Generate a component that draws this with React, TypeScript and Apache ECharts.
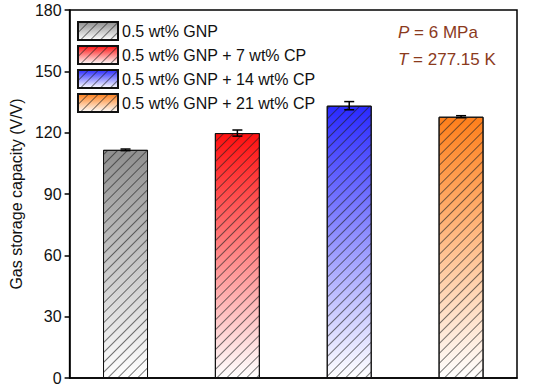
import React, { useEffect, useRef } from "react";
import * as echarts from "echarts";

const categories = ["GNP", "GNP+7CP", "GNP+14CP", "GNP+21CP"];
const seriesNames = [
  "0.5 wt% GNP",
  "0.5 wt% GNP + 7 wt% CP",
  "0.5 wt% GNP + 14 wt% CP",
  "0.5 wt% GNP + 21 wt% CP",
];
const values = [111.6, 119.8, 133.2, 127.8];
const errors = [0.4, 1.5, 2.0, 0.5];
const topColors = ["#8f8f8f", "#ff1010", "#2a2aff", "#ff7f1a"];
const yTicks = [0, 30, 60, 90, 120, 150, 180];

const FONT = "Liberation Sans, Arial, sans-serif";

export default function App() {
  const ref = useRef<HTMLDivElement>(null);
  useEffect(() => {
    if (!ref.current) return;
    document.body.style.margin = "0";
    const chart = echarts.init(ref.current, undefined, { renderer: "svg" });
    const decal = {
      symbol: "rect",
      symbolSize: 1,
      color: "rgba(30,30,30,0.6)",
      dashArrayX: [1, 0],
      dashArrayY: [1, 6],
      rotation: -Math.PI / 4,
    };
    const barSeries = seriesNames.map((name, i) => ({
      name,
      type: "bar",
      barWidth: 45,
      barGap: "-100%",
      data: values.map((v, j) => (j === i ? v : "-")),
      itemStyle: {
        color: new echarts.graphic.LinearGradient(0, 0, 0, 1, [
          { offset: 0, color: topColors[i] },
          { offset: 1, color: "#ffffff" },
        ]),
        borderColor: "#111",
        borderWidth: 1,
        decal,
      },
      z: 2,
    }));
    const errSeries = {
      type: "custom",
      name: "err",
      data: values.map((v, i) => [i, v - errors[i], v + errors[i]]),
      z: 5,
      renderItem: (params: any, api: any) => {
        const x = api.value(0);
        const lo = api.coord([x, api.value(1)]);
        const hi = api.coord([x, api.value(2)]);
        const hw = 5;
        const style = { stroke: "#000", lineWidth: 1.5 };
        return {
          type: "group",
          children: [
            { type: "line", shape: { x1: lo[0], y1: lo[1], x2: hi[0], y2: hi[1] }, style },
            { type: "line", shape: { x1: lo[0] - hw, y1: lo[1], x2: lo[0] + hw, y2: lo[1] }, style },
            { type: "line", shape: { x1: hi[0] - hw, y1: hi[1], x2: hi[0] + hw, y2: hi[1] }, style },
          ],
        };
      },
    };
    const annoStyle = (t: string) => ({
      text: t,
      fill: "#8b3a1c",
      font: `17px ${FONT}`,
      rich: {
        i: { fontStyle: "italic", fontSize: 17, fill: "#8b3a1c", fontFamily: FONT },
        n: { fontSize: 17, fill: "#8b3a1c", fontFamily: FONT },
      },
    });
    chart.setOption({
      animation: false,
      textStyle: { fontFamily: FONT },
      grid: {
        left: 65,
        right: 33,
        top: 10,
        bottom: 10,
        show: true,
        borderColor: "#000",
        borderWidth: 1.5,
      },
      legend: {
        orient: "vertical",
        left: 72,
        top: 16,
        itemWidth: 40,
        itemHeight: 18,
        itemGap: 4,
        icon: "rect",
        data: seriesNames,
        textStyle: { fontSize: 16, color: "#111", fontFamily: FONT, padding: [0, 0, 0, -1] },
      },
      xAxis: {
        type: "category",
        data: categories,
        axisLine: { lineStyle: { color: "#000", width: 1.5 } },
        axisTick: { inside: true, alignWithLabel: true, length: 5, lineStyle: { color: "#000", width: 1.5 } },
        axisLabel: { show: false },
      },
      yAxis: {
        type: "value",
        min: yTicks[0],
        max: yTicks[yTicks.length - 1],
        interval: 30,
        name: "Gas storage capacity (V/V)",
        nameLocation: "middle",
        nameGap: 41,
        nameTextStyle: { fontSize: 16, color: "#111", fontFamily: FONT },
        splitLine: { show: false },
        axisLine: { show: true, lineStyle: { color: "#000", width: 1.5 } },
        axisTick: { show: true, length: 5, lineStyle: { color: "#000", width: 1.5 } },
        axisLabel: { fontSize: 16, color: "#111", margin: 8, fontFamily: FONT },
      },
      graphic: [
        { type: "text", left: 398, top: 24, style: annoStyle("{i|P}{n| = 6 MPa}") },
        { type: "text", left: 398, top: 51, style: annoStyle("{i|T}{n| = 277.15 K}") },
      ],
      series: [...barSeries, errSeries],
    });
    return () => chart.dispose();
  }, []);
  return <div ref={ref} style={{ width: 550, height: 388 }} />;
}
